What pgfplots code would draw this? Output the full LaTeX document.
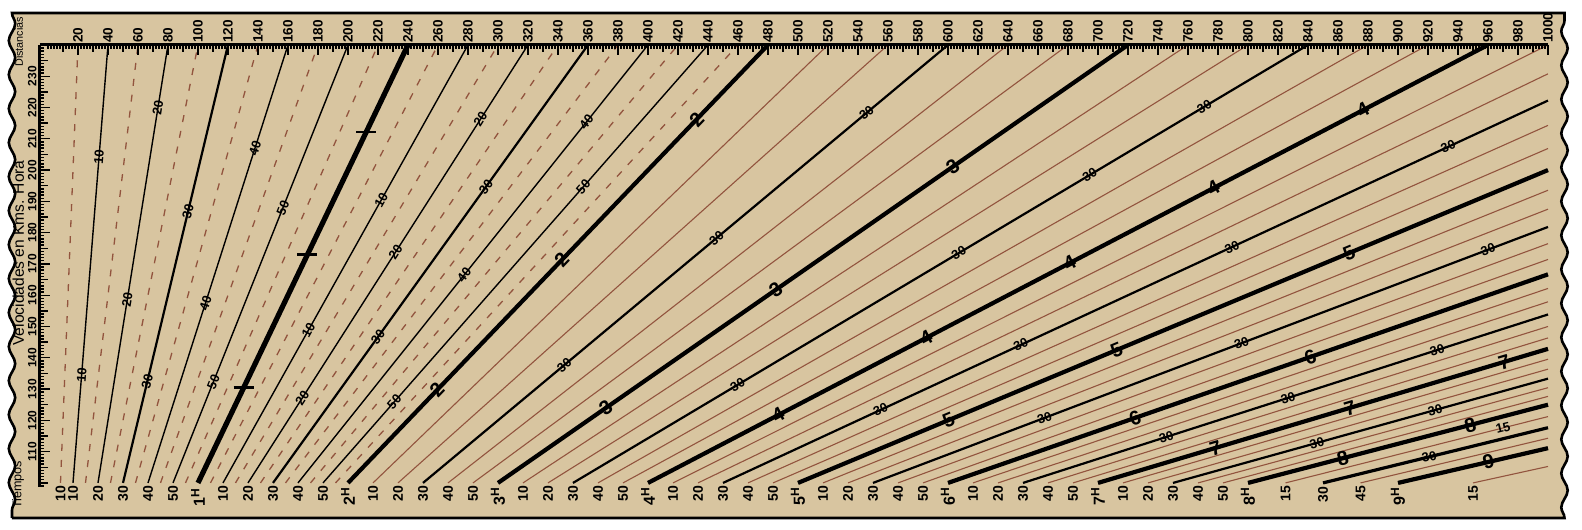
\documentclass[border=0pt]{standalone}
\usepackage{pgfplots}
\pgfplotsset{compat=1.18}
\usepackage{fontspec}
\setmainfont{Liberation Sans}
\usetikzlibrary{decorations.pathmorphing}

\definecolor{paper}{RGB}{216,197,160}
\definecolor{brn}{RGB}{146,84,62}

\newcommand{\fs}[1]{\fontsize{#1}{#1}\selectfont\bfseries}

\pgfplotsset{
  hr/.style={black, line width=2.1pt},
  hf/.style={black, line width=1.1pt},
  mn/.style={black, line width=0.7pt},
  br/.style={brn, line width=0.55pt},
  ds/.style={brn, line width=0.65pt, dash pattern=on 3.5pt off 4.5pt},
}
\tikzset{
  bl/.style={pos=0, rotate=90, anchor=east, inner sep=1pt, text=black, font=\fs{7}},
  ml/.style={pos=#1, sloped, inner sep=0.5pt, text=black, font=\fs{6.5}},
  hl/.style={pos=#1, sloped, inner sep=0pt, text=black, font=\fs{10}},
  xb/.style={pos=#1, inner sep=0pt},
}

\begin{document}
\begin{tikzpicture}
\begin{axis}[
  scale only axis, width=754pt, height=221pt,
  xmin=-5.333, xmax=1000, ymin=98.72, ymax=240,
  clip=false, axis on top,
  axis x line=top, axis y line=left,
  axis line style={-, line width=1.5pt},
  every outer x axis line/.append style={-},
  every outer y axis line/.append style={-},
  tick align=inside,
  major tick length=5pt, minor tick length=1.8pt,
  every tick/.style={black, line width=0.7pt},
  xtick={20,40,...,1000},
  minor xtick={0,2,...,1000},
  extra x ticks={10,30,...,990}, extra x tick labels={},
  extra x tick style={major tick length=3.4pt},
  ytick={110,120,...,230},
  minor ytick={99,100,...,240},
  extra y ticks={100,105,...,235}, extra y tick labels={},
  extra y tick style={major tick length=3.8pt},
  xticklabel style={rotate=90, anchor=west, inner sep=0.8pt, font=\fs{6.8},
    /pgf/number format/1000 sep={}, /pgf/number format/assume math mode=true},
  yticklabel style={rotate=90, anchor=south, inner sep=1.5pt, font=\fs{6},
    /pgf/number format/assume math mode=true},
]
% paper sheet
\path (-32,84.98) rectangle (1022.67,254.36);
\path[fill=paper, draw=black, line width=1.3pt,
      decoration={snake, amplitude=1.6pt, segment length=17pt}]
  (-24,88.8) -- (1011,88.8)
  decorate {-- (1011,250.2)}
  -- (-24,250.2)
  decorate {-- (-24,88.8)} -- cycle;

\node[rotate=90, font=\fontsize{5.4}{5.4}\selectfont] at (-19.3,241) {Distancias};
\node[rotate=90, font=\fontsize{7.8}{7.8}\selectfont] at (-19.8,173.5) {Velocidades en Kms. Hora};
\node[rotate=90, font=\fontsize{6.3}{6.3}\selectfont] at (-20,99.4) {Tiempos};

% 0 h - 1 h
\addplot[ds] coordinates {(8.333,100)(20,240)} node[bl]{10};
\addplot[mn] coordinates {(16.667,100)(40,240)} node[bl]{10} node[ml=0.744]{10} node[ml=0.247]{10};
\addplot[ds] coordinates {(25,100)(60,240)};
\addplot[mn] coordinates {(33.333,100)(80,240)} node[bl]{20} node[ml=0.856]{20} node[ml=0.418]{20};
\addplot[ds] coordinates {(41.667,100)(100,240)};
\addplot[hf] coordinates {(50,100)(120,240)} node[bl]{30} node[ml=0.619]{30} node[ml=0.231]{30};
\addplot[ds] coordinates {(58.333,100)(140,240)};
\addplot[mn] coordinates {(66.667,100)(160,240)} node[bl]{40} node[ml=0.765]{40} node[ml=0.411]{40};
\addplot[ds] coordinates {(75,100)(180,240)};
\addplot[mn] coordinates {(83.333,100)(200,240)} node[bl]{50} node[ml=0.628]{50} node[ml=0.231]{50};
\addplot[ds] coordinates {(91.667,100)(220,240)};
\addplot[black, line width=2.6pt] coordinates {(100,100)(240,240)} node[bl, font=\fs{8}]{1\textsuperscript{H}}
  node[xb=0.801]{\rule{10pt}{1.4pt}} node[xb=0.521]{\rule{10pt}{1.4pt}} node[xb=0.217]{\rule{10pt}{1.4pt}};
% 1 h - 2 h
\addplot[ds] coordinates {(108.333,100)(260,240)};
\addplot[mn] coordinates {(116.667,100)(280,240)} node[bl]{10} node[ml=0.646]{10} node[ml=0.349]{10};
\addplot[ds] coordinates {(125,100)(300,240)};
\addplot[mn] coordinates {(133.333,100)(320,240)} node[bl]{20} node[ml=0.830]{20} node[ml=0.527]{20} node[ml=0.194]{20};
\addplot[ds] coordinates {(141.667,100)(340,240)};
\addplot[hf] coordinates {(150,100)(360,240)} node[bl]{30} node[ml=0.676]{30} node[ml=0.333]{30};
\addplot[ds] coordinates {(158.333,100)(380,240)};
\addplot[mn] coordinates {(166.667,100)(400,240)} node[bl]{40} node[ml=0.824]{40} node[ml=0.475]{40};
\addplot[ds] coordinates {(175,100)(420,240)};
\addplot[mn] coordinates {(183.333,100)(440,240)} node[bl]{50} node[ml=0.676]{50} node[ml=0.185]{50};
\addplot[ds] coordinates {(191.667,100)(460,240)};
\addplot[hr] coordinates {(200,100)(480,240)} node[bl, font=\fs{8}]{2\textsuperscript{H}}
  node[hl=0.830]{2} node[hl=0.509]{2} node[hl=0.212]{2};
% 2 h - 3 h
\addplot[br] coordinates {(216.667,100)(520,240)} node[bl]{10};
\addplot[br] coordinates {(233.333,100)(560,240)} node[bl]{20};
\addplot[hf] coordinates {(250,100)(600,240)} node[bl]{30} node[ml=0.845]{30} node[ml=0.559]{30} node[ml=0.269]{30};
\addplot[br] coordinates {(266.667,100)(640,240)} node[bl]{40};
\addplot[br] coordinates {(283.333,100)(680,240)} node[bl]{50};
\addplot[hr] coordinates {(300,100)(720,240)} node[bl, font=\fs{8}]{3\textsuperscript{H}}
  node[hl=0.722]{3} node[hl=0.441]{3} node[hl=0.171]{3};
% 3 h - 4 h
\addplot[br] coordinates {(316.667,100)(760,240)} node[bl]{10};
\addplot[br] coordinates {(333.333,100)(800,240)} node[bl]{20};
\addplot[hf] coordinates {(350,100)(840,240)} node[bl]{30} node[ml=0.859]{30} node[ml=0.703]{30} node[ml=0.525]{30} node[ml=0.224]{30};
\addplot[br] coordinates {(366.667,100)(880,240)} node[bl]{40};
\addplot[br] coordinates {(383.333,100)(920,240)} node[bl]{50};
\addplot[hr] coordinates {(400,100)(960,240)} node[bl, font=\fs{8}]{4\textsuperscript{H}}
  node[hl=0.851]{4} node[hl=0.673]{4} node[hl=0.502]{4} node[hl=0.331]{4} node[hl=0.155]{4};
% 4 h - 5 h
\addplot[br] coordinates {(416.667,100)(1000,240)} node[bl]{10};
\addplot[br] coordinates {(433.333,100)(1000,230.769)} node[bl]{20};
\addplot[hf] coordinates {(450,100)(1000,222.222)} node[bl]{30} node[ml=0.879]{30} node[ml=0.617]{30} node[ml=0.361]{30} node[ml=0.191]{30};
\addplot[br] coordinates {(466.667,100)(1000,214.286)} node[bl]{40};
\addplot[br] coordinates {(483.333,100)(1000,206.897)} node[bl]{50};
\addplot[hr] coordinates {(500,100)(1000,200)} node[bl, font=\fs{8}]{5\textsuperscript{H}}
  node[hl=0.735]{5} node[hl=0.425]{5} node[hl=0.201]{5};
% 5 h - 6 h
\addplot[br] coordinates {(516.667,100)(1000,193.548)} node[bl]{10};
\addplot[br] coordinates {(533.333,100)(1000,187.5)} node[bl]{20};
\addplot[hf] coordinates {(550,100)(1000,181.818)} node[bl]{30} node[ml=0.911]{30} node[ml=0.546]{30} node[ml=0.254]{30};
\addplot[br] coordinates {(566.667,100)(1000,176.471)} node[bl]{40};
\addplot[br] coordinates {(583.333,100)(1000,171.429)} node[bl]{50};
\addplot[hr] coordinates {(600,100)(1000,166.667)} node[bl, font=\fs{8}]{6\textsuperscript{H}}
  node[hl=0.604]{6} node[hl=0.312]{6};
% 6 h - 7 h
\addplot[br] coordinates {(616.667,100)(1000,162.162)} node[bl]{10};
\addplot[br] coordinates {(633.333,100)(1000,157.895)} node[bl]{20};
\addplot[hf] coordinates {(650,100)(1000,153.846)} node[bl]{30} node[ml=0.789]{30} node[ml=0.505]{30} node[ml=0.273]{30};
\addplot[br] coordinates {(666.667,100)(1000,150)} node[bl]{40};
\addplot[br] coordinates {(683.333,100)(1000,146.341)} node[bl]{50};
\addplot[hr] coordinates {(700,100)(1000,142.857)} node[bl, font=\fs{8}]{7\textsuperscript{H}}
  node[hl=0.903]{7} node[hl=0.560]{7} node[hl=0.261]{7};
% 7 h - 8 h
\addplot[br] coordinates {(716.667,100)(1000,139.535)} node[bl]{10};
\addplot[br] coordinates {(733.333,100)(1000,136.364)} node[bl]{20};
\addplot[hf] coordinates {(750,100)(1000,133.333)} node[bl]{30} node[ml=0.699]{30} node[ml=0.384]{30};
\addplot[br] coordinates {(766.667,100)(1000,130.435)} node[bl]{40};
\addplot[br] coordinates {(783.333,100)(1000,127.660)} node[bl]{50};
\addplot[hr] coordinates {(800,100)(1000,125)} node[bl, font=\fs{8}]{8\textsuperscript{H}}
  node[hl=0.741]{8} node[hl=0.316]{8};
% 8 h - 9 h 30
\addplot[br] coordinates {(825,100)(1000,121.212)} node[bl]{15} node[ml=0.829]{15};
\addplot[black, line width=1.6pt] coordinates {(850,100)(1000,117.647)} node[bl]{30} node[ml=0.472]{30};
\addplot[br] coordinates {(875,100)(1000,114.286)} node[bl]{45};
\addplot[hr] coordinates {(900,100)(1000,111.111)} node[bl, font=\fs{8}]{9\textsuperscript{H}}
  node[hl=0.603]{9};
\addplot[br] coordinates {(950,100)(1000,105.263)} node[bl]{15};
\end{axis}
\end{tikzpicture}
\end{document}
